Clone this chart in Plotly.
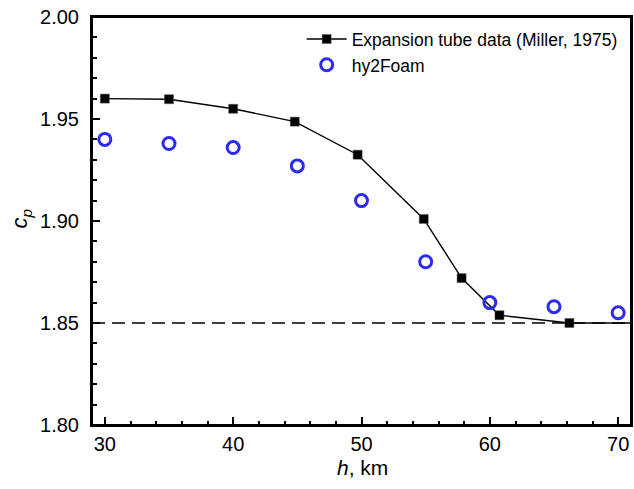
import plotly.graph_objects as go

# Expansion tube data (Miller, 1975)
exp_h = [30.0, 35.0, 40.0, 44.8, 49.7, 54.85, 57.8, 60.75, 66.2]
exp_cp = [1.960, 1.9597, 1.955, 1.9487, 1.9325, 1.901, 1.872, 1.8538, 1.8500]
# line continues flat past last point
exp_tail_h = [66.2, 71.0]
exp_tail_cp = [1.850, 1.850]

# hy2Foam
foam_h = [30, 35, 40, 45, 50, 55, 60, 65, 70]
foam_cp = [1.940, 1.938, 1.936, 1.927, 1.910, 1.880, 1.860, 1.858, 1.855]

ref_cp = 1.85
x_range = [29, 71]
y_range = [1.80, 2.00]
x_ticks = [30, 40, 50, 60, 70]
y_ticks = [1.80, 1.85, 1.90, 1.95, 2.00]
y_ticklabels = ["1.80", "1.85", "1.90", "1.95", "2.00"]

FONT = "Liberation Sans, Arial, Helvetica, sans-serif"

fig = go.Figure()

fig.add_trace(go.Scatter(
    x=x_range, y=[ref_cp, ref_cp], mode="lines",
    line=dict(color="black", width=1.4, dash="13px,7px"),
    showlegend=False, hoverinfo="skip"))

fig.add_trace(go.Scatter(
    x=exp_tail_h, y=exp_tail_cp, mode="lines",
    line=dict(color="black", width=1.4), showlegend=False))

fig.add_trace(go.Scatter(
    x=exp_h, y=exp_cp, mode="lines+markers",
    name="Expansion tube data (Miller, 1975)",
    line=dict(color="black", width=1.4),
    marker=dict(symbol="square", size=9, color="black",
                line=dict(color="#555", width=0.5))))

fig.add_trace(go.Scatter(
    x=foam_h, y=foam_cp, mode="markers", name="hy2Foam",
    marker=dict(symbol="circle-open", size=12, color="#2b2bf5",
                line=dict(color="#2b2bf5", width=3))))

axis_common = dict(
    showline=True, linecolor="black", linewidth=2, mirror=True,
    ticks="inside", ticklen=8, tickwidth=2, tickcolor="black",
    showgrid=False, zeroline=False, ticklabeloverflow="allow",
    tickfont=dict(family=FONT, size=20, color="black"),
)

fig.update_xaxes(
    range=x_range, tickvals=x_ticks,
    minor=dict(dtick=2, ticks="inside", ticklen=4, tickwidth=2, tickcolor="black",
               showgrid=False),
    **axis_common)

fig.update_yaxes(
    range=y_range, tickvals=y_ticks, ticktext=y_ticklabels,
    ticklabelstandoff=7,
    minor=dict(dtick=0.01, ticks="inside", ticklen=5, tickwidth=2, tickcolor="black",
               showgrid=False),
    **axis_common)

# axis titles placed as annotations relative to the plot area
fig.add_annotation(text="<i>h</i>, km", xref="paper", yref="paper",
                   x=0.501, y=-0.103, xanchor="center", yanchor="middle",
                   showarrow=False, font=dict(family=FONT, size=21, color="black"))
fig.add_annotation(text="<i>c<sub>p</sub></i>", xref="paper", yref="paper",
                   x=-0.131, y=0.507, xanchor="center", yanchor="middle", textangle=-90,
                   showarrow=False, font=dict(family=FONT, size=22, color="black"))

# frame around the plotting area
fig.add_shape(type="rect", xref="paper", yref="paper", x0=0, y0=0, x1=1, y1=1,
              line=dict(color="black", width=2), layer="above")

fig.update_layout(
    width=634, height=489,
    margin=dict(l=92, r=1, t=17, b=64),
    plot_bgcolor="white", paper_bgcolor="white",
    legend=dict(x=0.389, y=0.99, xanchor="left", yanchor="top",
                bgcolor="rgba(0,0,0,0)",
                font=dict(family=FONT, size=17.5, color="black"),
                itemwidth=40, tracegroupgap=0),
    font=dict(family=FONT),
)

# remove the default page margin so the figure fills the 634x489 window exactly
fig.write_html(
    "out.html",
    config={"displayModeBar": False},
    post_script="document.body.style.margin='0px';"
                "document.documentElement.style.overflow='hidden';",
)
